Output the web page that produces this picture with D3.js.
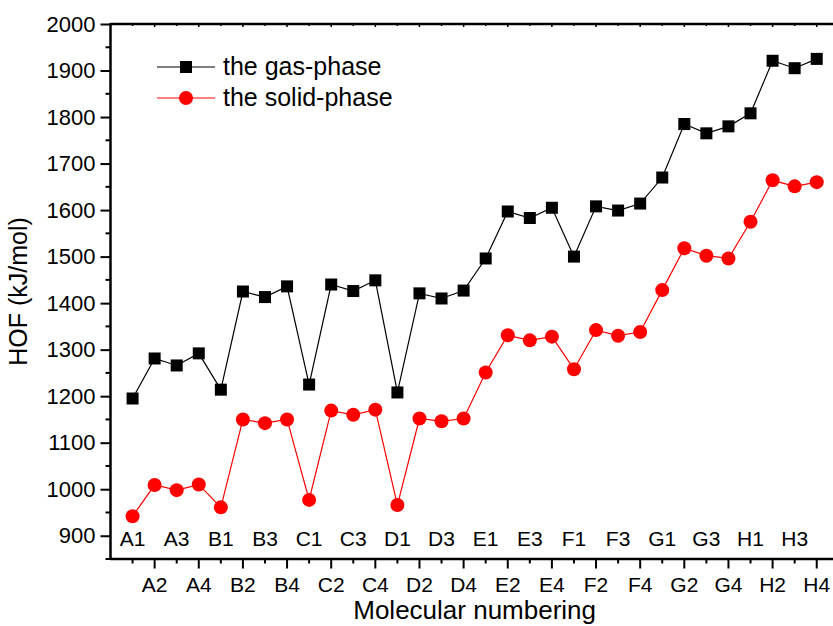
<!DOCTYPE html>
<html>
<head>
<meta charset="utf-8">
<script src="https://cdn.jsdelivr.net/npm/d3@7"></script>
<style>
  body { margin: 0; background: #fff; }
  svg { display: block; }
  svg text { font-family: "Liberation Sans", Arial, Helvetica, sans-serif; }
</style>
</head>
<body>
<svg id="chart" width="833" height="626"></svg>
<script>
// categories: A1..H4
const labels = ["A1","A2","A3","A4","B1","B2","B3","B4","C1","C2","C3","C4",
  "D1","D2","D3","D4","E1","E2","E3","E4","F1","F2","F3","F4",
  "G1","G2","G3","G4","H1","H2","H3","H4"];

const gasPhase = [1195,1281,1266,1292,1214,1425,1413,1436,1225,1440,1426,1449,
  1208,1421,1410,1427,1496,1597,1583,1605,1500,1608,1599,1614,
  1670,1785,1765,1780,1808,1921,1905,1925];

const solidPhase = [942,1009,998,1010,961,1150,1142,1150,977,1169,1160,1171,
  966,1152,1146,1152,1251,1331,1320,1328,1258,1342,1330,1338,
  1428,1518,1502,1496,1575,1664,1651,1660];

const yTicks = [900,1000,1100,1200,1300,1400,1500,1600,1700,1800,1900,2000];

const svg = d3.select("#chart");
const plotL = 110.5, plotT = 24, plotR = 838.8, plotB = 559;

const x = d3.scaleLinear().domain([0, 33]).range([plotL, plotR]);
const y = d3.scaleLinear().domain([850, 2000]).range([plotB, plotT]);

// y axis
const yAxis = d3.axisLeft(y).tickValues(yTicks).tickSize(10).tickPadding(5)
  .tickFormat(d3.format("d"));
const gy = svg.append("g").attr("transform", `translate(${plotL},0)`).call(yAxis);
gy.attr("font-family", null);
gy.select(".domain").remove();
gy.selectAll(".tick line").attr("stroke", "#000").attr("stroke-width", 2);
gy.selectAll("text").attr("font-size", 22).attr("fill", "#000");
// minor y ticks
svg.append("g").selectAll("line")
  .data(d3.range(850, 2000, 100))
  .join("line")
  .attr("x1", plotL - 5).attr("x2", plotL)
  .attr("y1", d => y(d)).attr("y2", d => y(d))
  .attr("stroke", "#000").attr("stroke-width", 2);

// x axis ticks
const idx = d3.range(1, 33);
svg.append("g").selectAll("line")
  .data(idx)
  .join("line")
  .attr("x1", d => x(d)).attr("x2", d => x(d))
  .attr("y1", plotB)
  .attr("y2", d => plotB + (d % 2 === 0 ? 9.5 : 4.5))
  .attr("stroke", "#000").attr("stroke-width", 2);

// top axis small ticks
svg.append("g").selectAll("line")
  .data(idx)
  .join("line")
  .attr("x1", d => x(d)).attr("x2", d => x(d))
  .attr("y1", plotT).attr("y2", d => plotT + (d % 2 === 0 ? 3 : 2))
  .attr("stroke", "#000").attr("stroke-width", 1.5);

// x tick labels, odd above axis, even below
svg.append("g").selectAll("text")
  .data(labels)
  .join("text")
  .attr("x", (d, i) => x(i + 1))
  .attr("y", (d, i) => (i % 2 === 0 ? 546 : 592))
  .attr("text-anchor", "middle")
  .attr("font-size", 21)
  .attr("fill", "#000")
  .text(d => d);

// frame lines
svg.append("line").attr("x1", plotL).attr("x2", plotL).attr("y1", plotT - 1).attr("y2", plotB + 1)
  .attr("stroke", "#000").attr("stroke-width", 2.5);
svg.append("line").attr("x1", plotL).attr("x2", 833).attr("y1", plotT).attr("y2", plotT)
  .attr("stroke", "#000").attr("stroke-width", 2.5);
svg.append("line").attr("x1", plotL).attr("x2", 833).attr("y1", plotB).attr("y2", plotB)
  .attr("stroke", "#000").attr("stroke-width", 2.5);

// series
const line = d3.line().x((d, i) => x(i + 1)).y(d => y(d));

svg.append("path").datum(gasPhase)
  .attr("fill", "none").attr("stroke", "#000").attr("stroke-width", 1.2)
  .attr("d", line);
svg.append("path").datum(solidPhase)
  .attr("fill", "none").attr("stroke", "#ff0000").attr("stroke-width", 1.2)
  .attr("d", line);

svg.append("g").selectAll("rect")
  .data(gasPhase)
  .join("rect")
  .attr("x", (d, i) => x(i + 1) - 6)
  .attr("y", d => y(d) - 6)
  .attr("width", 12).attr("height", 12)
  .attr("fill", "#000");

svg.append("g").selectAll("circle")
  .data(solidPhase)
  .join("circle")
  .attr("cx", (d, i) => x(i + 1))
  .attr("cy", d => y(d))
  .attr("r", 7)
  .attr("fill", "#ff0000");

// legend
const legend = [
  { name: "the gas-phase", color: "#000", ly: 67, shape: "square" },
  { name: "the solid-phase", color: "#ff0000", ly: 98, shape: "circle" }
];
const lg = svg.append("g");
legend.forEach(l => {
  lg.append("line").attr("x1", 157).attr("x2", 215).attr("y1", l.ly).attr("y2", l.ly)
    .attr("stroke", l.color).attr("stroke-width", 1.2);
  if (l.shape === "square") {
    lg.append("rect").attr("x", 180).attr("y", l.ly - 6).attr("width", 12).attr("height", 12).attr("fill", l.color);
  } else {
    lg.append("circle").attr("cx", 186).attr("cy", l.ly).attr("r", 7).attr("fill", l.color);
  }
  lg.append("text").attr("x", 223).attr("y", l.ly + 8).attr("font-size", 25).attr("fill", "#000").text(l.name);
});

// axis titles
svg.append("text")
  .attr("transform", `translate(27,${(plotT + plotB) / 2}) rotate(-90)`)
  .attr("text-anchor", "middle").attr("font-size", 25).attr("fill", "#000")
  .text("HOF (kJ/mol)");
svg.append("text")
  .attr("x", (plotL + plotR) / 2).attr("y", 619)
  .attr("text-anchor", "middle").attr("font-size", 26).attr("fill", "#000")
  .text("Molecular numbering");
</script>
</body>
</html>
